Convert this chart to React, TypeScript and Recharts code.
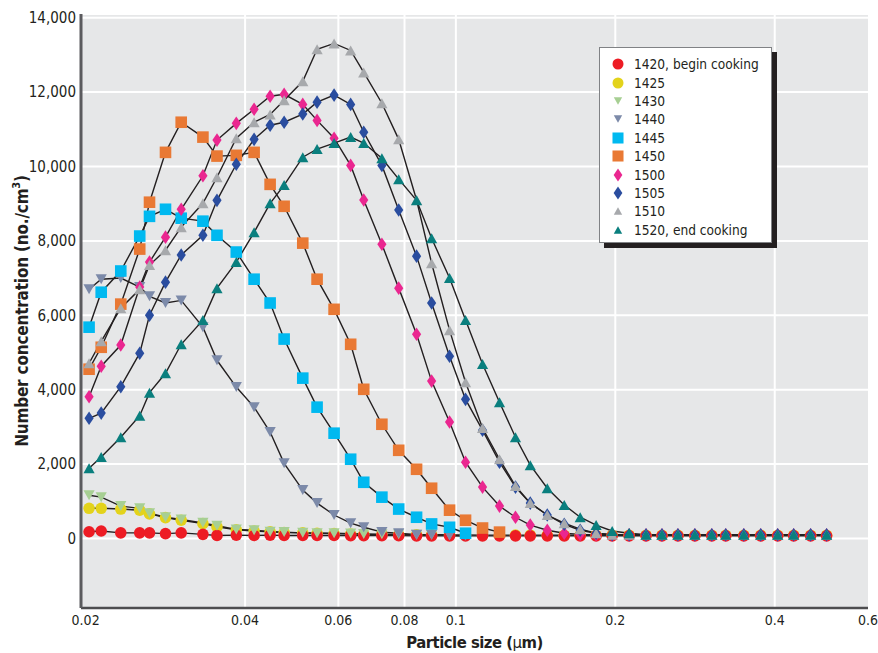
import React from "react";
import { CartesianGrid, Label, Legend, Line, LineChart, XAxis, YAxis } from "recharts";

// particle size channels (µm)
const sizes = [
  0.0203, 0.0214, 0.0233, 0.0253, 0.0264, 0.0283, 0.0303, 0.0333, 0.0354, 0.0385,
  0.0416, 0.0446, 0.0474, 0.0514, 0.0547, 0.0589, 0.0633, 0.067, 0.0725, 0.078,
  0.0843, 0.09, 0.0973, 0.1043, 0.1123, 0.1209, 0.1296, 0.1382, 0.1488, 0.1602,
  0.1717, 0.184, 0.1973, 0.2124, 0.2286, 0.245, 0.2626, 0.2827, 0.3043, 0.3233,
  0.3497, 0.3764, 0.4052, 0.4344, 0.4676, 0.5012,
];

// number concentration (no./cm3) per sample time
const n1420 = [
  180, 200, 150, 150, 150, 130, 150, 110, 80, 90, 80, 90, 80, 80, 80, 80, 75, 75, 75, 75,
  70, 70, 70, 70, 70, 70, 70, 70, 70, 70, 70, 70, 70, 70, 70, 70, 70, 70, 70, 70,
  70, 70, 70, 70, 70, 70,
];
const n1425 = [
  810, 810, 790, 760, 660, 560, 490, 400, 310, 230, 200, 180, 160, 150, 140, 130, 120, 110, 110, 100,
  100, 100, 95, 95, 90, 90, 90, 90, 90, 85, 85, 85, 85, 85, 85, 85, 85, 85, 85, 85,
  85, 85, 85, 85, 85, 85,
];
const n1430 = [
  1160, 1110, 870, 810, 680, 570, 510, 420, 340, 240, 220, 180, 170, 150, 140, 140, 130, 120, 110, 110,
  100, 100, 90,
];
const n1440 = [
  6700, 6970, 7000, 6760, 6510, 6330, 6400, 5680, 4790, 4070, 3530, 2860, 2020, 1300, 950, 630, 410, 300, 170, 140,
  100, 100, 80, 70,
];
const n1445 = [
  5680, 6620, 7190, 8130, 8660, 8850, 8610, 8530, 8150, 7700, 6970, 6330, 5360, 4310, 3530, 2830, 2130, 1510, 1110, 790,
  570, 390, 300, 140,
];
const n1450 = [
  4550, 5140, 6300, 7780, 9040, 10380, 11190, 10790, 10280, 10300, 10380, 9520, 8930, 7940, 6970, 6160, 5220, 4010, 3070, 2370,
  1860, 1350, 760, 490, 280, 170,
];
const n1500 = [
  3810, 4630, 5200, 6760, 7430, 8100, 8850, 9750, 10710, 11160, 11540, 11890, 11940, 11670, 11240, 10760, 10030, 9100, 7910, 6730,
  5490, 4230, 3130, 2050, 1380, 870, 570, 360, 220, 140, 110, 100, 95, 95, 95, 95, 95, 95, 95, 95,
  95, 95, 95, 95, 95, 95,
];
const n1505 = [
  3230, 3370, 4080, 4980, 6000, 6890, 7620, 8150, 9090, 10060, 10730, 11110, 11190, 11410, 11730, 11920, 11670, 10920, 10030, 8830,
  7590, 6330, 4900, 3740, 2910, 2050, 1380, 950, 630, 380, 220, 140, 100, 100, 100, 100, 100, 100, 100, 100,
  100, 100, 100, 100, 100, 100,
];
const n1510 = [
  4710, 5300, 6190, 6700, 7350, 7750, 8370, 9010, 9710, 10760, 11190, 11400, 11780, 12290, 13150, 13310, 13120, 12530, 11700, 10730,
  9100, 7400, 5600, 4200, 2970, 2130, 1410, 950, 630, 410, 250, 140, 100, 100, 100, 100, 100, 100, 100, 100,
  100, 100, 100, 100, 100, 100,
];
const n1520 = [
  1890, 2190, 2720, 3300, 3920, 4440, 5220, 5870, 6730, 7430, 8230, 9010, 9500, 10250, 10470, 10630, 10790, 10630, 10220, 9660,
  9090, 8070, 7000, 5870, 4690, 3660, 2720, 1970, 1350, 900, 570, 360, 200, 140, 100, 100, 100, 100, 100, 100,
  100, 100, 100, 100, 100, 100,
];

const xTicks = [0.02, 0.04, 0.06, 0.08, 0.1, 0.2, 0.4, 0.6];
const xGridValues = [0.04, 0.06, 0.08, 0.1, 0.2, 0.4];
const yTicks = [0, 2000, 4000, 6000, 8000, 10000, 12000, 14000];

const FONT = "'DejaVu Sans Condensed', 'DejaVu Sans', sans-serif";
const INK = "#231f20";

type Shape = "circle" | "square" | "diamond" | "up" | "down";

interface SeriesDef {
  key: string;
  name: string;
  values: number[];
  color: string;
  shape: Shape;
}

const series: SeriesDef[] = [
  { key: "s1420", name: "1420, begin cooking", values: n1420, color: "#ed1c24", shape: "circle" },
  { key: "s1425", name: "1425", values: n1425, color: "#e3d31b", shape: "circle" },
  { key: "s1430", name: "1430", values: n1430, color: "#a7cf93", shape: "down" },
  { key: "s1440", name: "1440", values: n1440, color: "#7c8aa9", shape: "down" },
  { key: "s1445", name: "1445", values: n1445, color: "#00b9f0", shape: "square" },
  { key: "s1450", name: "1450", values: n1450, color: "#e97934", shape: "square" },
  { key: "s1500", name: "1500", values: n1500, color: "#ea2790", shape: "diamond" },
  { key: "s1505", name: "1505", values: n1505, color: "#2a4d9f", shape: "diamond" },
  { key: "s1510", name: "1510", values: n1510, color: "#a7a9ac", shape: "up" },
  { key: "s1520", name: "1520, end cooking", values: n1520, color: "#0a7f7e", shape: "up" },
];

// yellow circles sit underneath the red ones
const drawOrder = ["s1425", "s1420", "s1430", "s1440", "s1445", "s1450", "s1500", "s1505", "s1510", "s1520"];

const rows = sizes.map((size, i) => {
  const row: { [key: string]: number } = { size };
  series.forEach((s) => {
    if (i < s.values.length) row[s.key] = s.values[i];
  });
  return row;
});

const Marker = ({ cx, cy, color, shape, k = 1 }: { cx: number; cy: number; color: string; shape: Shape; k?: number }) => {
  switch (shape) {
    case "circle":
      return <circle cx={cx} cy={cy} r={5.8 * k} fill={color} />;
    case "square": {
      const h = 5.8 * k;
      return <rect x={cx - h} y={cy - h} width={2 * h} height={2 * h} fill={color} />;
    }
    case "diamond": {
      const w = 4.6 * k;
      const h = 6.8 * k;
      return <path d={`M${cx},${cy - h}L${cx + w},${cy}L${cx},${cy + h}L${cx - w},${cy}Z`} fill={color} />;
    }
    case "up": {
      const w = 5.6 * k;
      const h = 5 * k;
      return <path d={`M${cx},${cy - h}L${cx + w},${cy + h}L${cx - w},${cy + h}Z`} fill={color} />;
    }
    default: {
      const w = 5.6 * k;
      const h = 5 * k;
      return <path d={`M${cx - w},${cy - h}L${cx + w},${cy - h}L${cx},${cy + h}Z`} fill={color} />;
    }
  }
};

const dotFor = (s: SeriesDef) => (p: any) => {
  const key = `${s.key}-${p.index}`;
  if (p.cx == null || p.cy == null || p.value == null) return <g key={key} />;
  return (
    <g key={key}>
      <Marker cx={p.cx} cy={p.cy} color={s.color} shape={s.shape} />
    </g>
  );
};

const LegendBox = () => (
  <div
    style={{
      boxSizing: "border-box",
      width: 173,
      height: 196,
      background: "#fff",
      border: "1px solid #808285",
      boxShadow: `5px 5px 0 ${INK}`,
      padding: "7px 0 3px 12px",
    }}
  >
    {series.map((s) => (
      <div key={s.key} style={{ display: "flex", alignItems: "center", height: 18.4 }}>
        <svg width={12} height={14} style={{ flex: "none" }}>
          <Marker cx={6} cy={7} color={s.color} shape={s.shape} k={s.shape === "up" || s.shape === "down" ? 0.75 : 0.95} />
        </svg>
        <span style={{ marginLeft: 10, fontFamily: FONT, fontSize: 13.6, color: INK, whiteSpace: "nowrap" }}>{s.name}</span>
      </div>
    ))}
  </div>
);

const YTitle = (props: any) => {
  const { x, y, height } = props.viewBox;
  const cx = x + 22;
  const cy = y + height / 2;
  return (
    <text
      x={cx}
      y={cy}
      transform={`rotate(-90, ${cx}, ${cy})`}
      textAnchor="middle"
      dominantBaseline="central"
      fontFamily={FONT}
      fontWeight="bold"
      fontSize={17}
      letterSpacing={-0.2}
      fill={INK}
    >
      Number concentration (no./cm
      <tspan fontSize={11} dy={-6}>3</tspan>
      <tspan dy={6}>)</tspan>
    </text>
  );
};

const XTitle = (props: any) => {
  const { x, y, width } = props.viewBox;
  return (
    <text
      x={x + width / 2}
      y={y + 40}
      textAnchor="middle"
      fontFamily={FONT}
      fontWeight="bold"
      fontSize={16.5}
      letterSpacing={-0.5}
      fill={INK}
    >
      Particle size (<tspan fontWeight="normal">μ</tspan>m)
    </text>
  );
};

export default function App() {
  return (
    <div style={{ position: "absolute", left: 0, top: 0 }}>
      <LineChart width={878} height={653} data={rows} margin={{ top: 14, right: 10, bottom: 0, left: 0 }}>
        <CartesianGrid
          fill="#e6e7e8"
          fillOpacity={1}
          stroke="#ffffff"
          strokeWidth={2}
          verticalValues={xGridValues}
        />
        <XAxis
          dataKey="size"
          type="number"
          scale="log"
          domain={[0.0196, 0.6]}
          allowDataOverflow
          ticks={xTicks}
          interval={0}
          height={45}
          tickLine={false}
          tickSize={0}
          tickMargin={7}
          axisLine={{ stroke: "#4d4d4f", strokeWidth: 2.5 }}
          tick={{ fontFamily: FONT, fontSize: 14, fill: INK }}
          tickFormatter={(v: number) => String(v)}
        >
          <Label content={<XTitle />} />
        </XAxis>
        <YAxis
          type="number"
          domain={[-1870, 14100]}
          allowDataOverflow
          ticks={yTicks}
          interval={0}
          width={81}
          tickLine={false}
          tickSize={0}
          tickMargin={5}
          axisLine={{ stroke: "#5b5b5e", strokeWidth: 3 }}
          tick={{ fontFamily: FONT, fontSize: 15, fill: INK }}
          tickFormatter={(v: number) => v.toLocaleString("en-US")}
        >
          <Label content={<YTitle />} />
        </YAxis>
        <Legend
          layout="vertical"
          align="center"
          verticalAlign="middle"
          wrapperStyle={{ left: 599, top: 47, width: 180 }}
          content={() => <LegendBox />}
        />
        {drawOrder.map((key) => {
          const s = series.find((d) => d.key === key) as SeriesDef;
          return (
            <Line
              key={s.key}
              dataKey={s.key}
              name={s.name}
              type="linear"
              stroke={INK}
              strokeWidth={1.4}
              dot={dotFor(s)}
              activeDot={false}
              isAnimationActive={false}
            />
          );
        })}
      </LineChart>
    </div>
  );
}
